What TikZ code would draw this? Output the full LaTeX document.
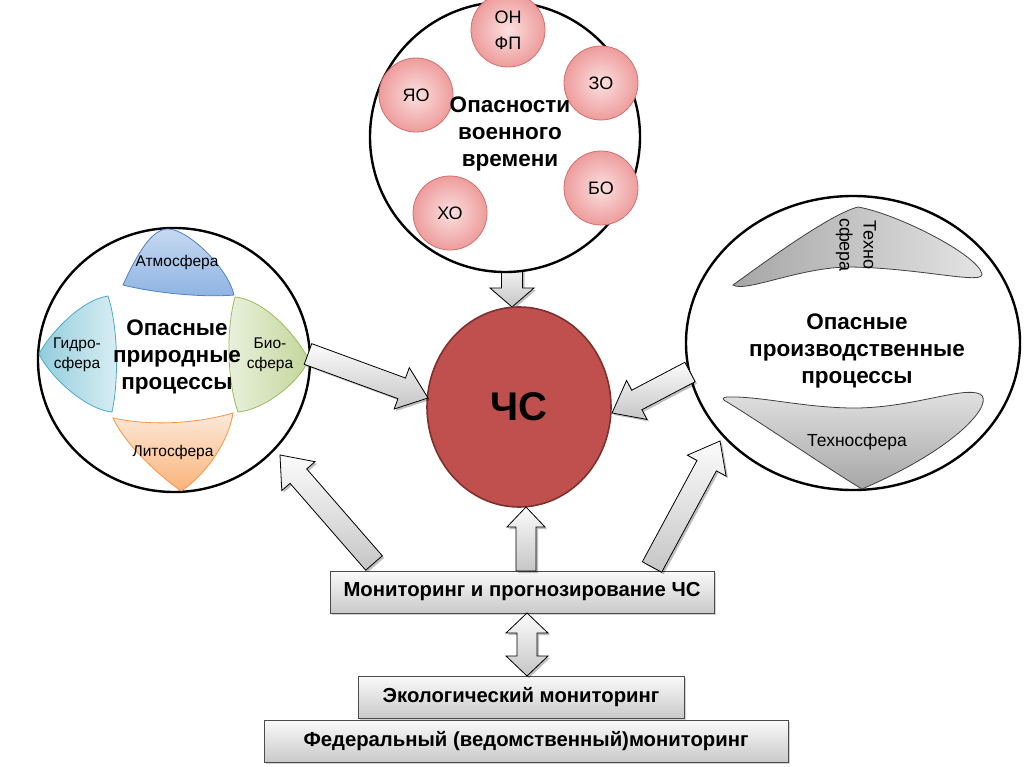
\documentclass[tikz,border=0pt]{standalone}
\usepackage{fontspec}
\setmainfont{Liberation Sans}
\usetikzlibrary{calc,shadows,shapes.geometric}
\definecolor{chsred}{HTML}{C0504D}
\definecolor{chsdark}{HTML}{7F2F2D}
\definecolor{pinkin}{HTML}{FBE0E0}
\definecolor{pinkout}{HTML}{EE9C9C}
\definecolor{pinkline}{HTML}{D0706C}
\definecolor{atmL}{HTML}{C6D9F1}
\definecolor{atmB}{HTML}{8DB3E2}
\definecolor{atmD}{HTML}{4F81BD}
\definecolor{hydL}{HTML}{DAEEF3}
\definecolor{hydB}{HTML}{93CDDD}
\definecolor{hydD}{HTML}{4BACC6}
\definecolor{bioL}{HTML}{EBF1DE}
\definecolor{bioB}{HTML}{C3D69B}
\definecolor{bioD}{HTML}{9BBB59}
\definecolor{litL}{HTML}{FDE9D9}
\definecolor{litB}{HTML}{FAB37A}
\definecolor{litD}{HTML}{F79646}
\definecolor{grL}{HTML}{E4E4E4}
\definecolor{grB}{HTML}{A6A6A6}
\tikzset{
  bigc/.style={ellipse, draw=black, line width=2.4pt, fill=white, inner sep=0pt},
  ball/.style={circle, minimum size=74pt, inner sep=0pt, draw=pinkline, line width=0.8pt,
    shading=radial, inner color=pinkin, outer color=pinkout, align=center,
    font=\fontsize{18}{26}\selectfont},
  bigtitle/.style={align=center, font=\fontsize{22.5}{27}\selectfont\bfseries},
  petaltxt/.style={align=center, font=\fontsize{15.5}{20}\selectfont},
  arrowsty/.style={draw=black, line width=0.8pt, top color=white!97!gray, bottom color=gray!45, line join=miter},
  shadowsty/.style={fill=black, opacity=0.25, transform canvas={shift={(2pt,-2pt)}}},
  boxsty/.style={rectangle, draw=gray!60!black, line width=0.8pt, top color=white!96!gray,
    bottom color=gray!42, minimum height=42pt, inner sep=0pt,
    drop shadow={opacity=0.35, shadow xshift=2pt, shadow yshift=-2pt},
    font=\fontsize{20.3}{24}\selectfont\bfseries},
  shapeline/.style={draw=black!75, line width=0.8pt}
}
\newcommand{\blockarrow}[6]{%
  \coordinate (#1h) at ($(#3)!#6!(#2)$);
  \fill[shadowsty] ($(#2)!#4!90:(#3)$) -- ($(#1h)!#4!90:(#3)$) -- ($(#1h)!#5!90:(#3)$) -- (#3) -- ($(#1h)!#5!-90:(#3)$) -- ($(#1h)!#4!-90:(#3)$) -- ($(#2)!#4!-90:(#3)$) -- cycle;
  \path[arrowsty] ($(#2)!#4!90:(#3)$) -- ($(#1h)!#4!90:(#3)$) -- ($(#1h)!#5!90:(#3)$) -- (#3) -- ($(#1h)!#5!-90:(#3)$) -- ($(#1h)!#4!-90:(#3)$) -- ($(#2)!#4!-90:(#3)$) -- cycle;
}
\newcommand{\dblarrow}[6]{%
  \coordinate (#1a) at ($(#2)!#6!(#3)$);
  \coordinate (#1b) at ($(#3)!#6!(#2)$);
  \fill[shadowsty] (#2) -- ($(#1a)!#5!90:(#3)$) -- ($(#1a)!#4!90:(#3)$) -- ($(#1b)!#4!-90:(#2)$) -- ($(#1b)!#5!-90:(#2)$) -- (#3) -- ($(#1b)!#5!90:(#2)$) -- ($(#1b)!#4!90:(#2)$) -- ($(#1a)!#4!-90:(#3)$) -- ($(#1a)!#5!-90:(#3)$) -- cycle;
  \path[arrowsty] (#2) -- ($(#1a)!#5!90:(#3)$) -- ($(#1a)!#4!90:(#3)$) -- ($(#1b)!#4!-90:(#2)$) -- ($(#1b)!#5!-90:(#2)$) -- (#3) -- ($(#1b)!#5!90:(#2)$) -- ($(#1b)!#4!90:(#2)$) -- ($(#1a)!#4!-90:(#3)$) -- ($(#1a)!#5!-90:(#3)$) -- cycle;
}
\begin{document}
\begin{tikzpicture}[x=1pt,y=-1pt]
\useasboundingbox[fill=white] (0,0) rectangle (1024,767);

% ---- arrow under the war circle ----
\coordinate (a1s) at (512,262);
\coordinate (a1e) at (512,307);
\blockarrow{A1}{a1s}{a1e}{10.5pt}{22pt}{19pt}

% ---- big circles ----
\node[bigc, minimum width=270pt, minimum height=270pt] (war) at (505,137) {};
\node[bigc, minimum width=272pt, minimum height=264pt] (nat) at (174,360) {};
\node[bigc, minimum width=334pt, minimum height=294pt] (ind) at (853,343) {};

% ---- war circle content ----
\node[ball] (on) at (508,30) {ОН\\ФП};
\node[ball] (zo) at (601,83) {ЗО};
\node[ball] (yao) at (416,95) {ЯО};
\node[ball] (bo) at (601,188) {БО};
\node[ball] (xo) at (450,213) {ХО};
\node[bigtitle] (warlbl) at (510,134) {Опасности\\военного\\времени};

% ---- natural petals ----
\path[draw=atmD, line width=0.8pt, top color=atmL, bottom color=atmB]
  (123,285) .. controls (138,252) and (152,229) .. (168,229)
  .. controls (188,229) and (228,268) .. (234,295)
  .. controls (200,298) and (150,292) .. (123,285) -- cycle;
\path[draw=hydD, line width=0.8pt, left color=hydB, right color=hydL]
  (108,296) .. controls (80,300) and (48,336) .. (39,354)
  .. controls (52,380) and (88,410) .. (112,412)
  .. controls (119,380) and (118,326) .. (108,296) -- cycle;
\path[draw=bioD, line width=0.8pt, left color=bioL, right color=bioB]
  (235,297) .. controls (265,300) and (296,335) .. (309,360)
  .. controls (296,386) and (262,410) .. (238,412)
  .. controls (227,380) and (226,330) .. (235,297) -- cycle;
\path[draw=litD, line width=0.8pt, top color=litL, bottom color=litB]
  (113,418) .. controls (150,426) and (195,424) .. (233,413)
  .. controls (228,445) and (202,478) .. (181,491)
  .. controls (160,476) and (126,446) .. (113,418) -- cycle;
\node[petaltxt] (atm) at (177,262) {Атмосфера};
\node[petaltxt] (hyd) at (77,355) {Гидро-\\сфера};
\node[petaltxt] (bio) at (270,355) {Био-\\сфера};
\node[petaltxt] (lit) at (173,452) {Литосфера};
\node[bigtitle] (natlbl) at (177,357) {Опасные\\природные\\процессы};

% ---- industrial shapes ----
\path[shapeline, left color=grB, right color=grL]
  (733,285) .. controls (762,264) and (830,214) .. (858,207)
  .. controls (898,214) and (978,255) .. (982,274)
  .. controls (984,285) and (920,268) .. (850,267)
  .. controls (800,267) and (745,293) .. (733,285) -- cycle;
\path[shapeline, top color=grL, bottom color=grB]
  (727,397) .. controls (760,396) and (800,407) .. (850,408)
  .. controls (910,409) and (962,386) .. (980,394)
  .. controls (995,402) and (960,447) .. (862,489)
  .. controls (830,470) and (760,422) .. (727,402)
  .. controls (722,400) and (722,397) .. (727,397) -- cycle;
\node[rotate=-90, align=center, font=\fontsize{18}{24}\selectfont] (tech1) at (856,245) {Техно\\сфера};
\node[font=\fontsize{17.5}{20}\selectfont] (tech2) at (857,442) {Техносфера};
\node[bigtitle] (indlbl) at (857,351) {Опасные\\производственные\\процессы};

% ---- ЧС ----
\node[ellipse, minimum width=184pt, minimum height=200pt, fill=chsred, draw=chsdark,
  line width=1.6pt, font=\fontsize{40}{44}\selectfont\bfseries] (chs) at (519,407) {ЧС};

% ---- boxes ----
\node[boxsty, minimum width=384pt] (mon) at (522,592) {Мониторинг и прогнозирование ЧС};
\node[boxsty, minimum width=326pt] (eco) at (521,697) {Экологический мониторинг};
\node[boxsty, minimum width=524pt] (fed) at (526,741) {Федеральный (ведомственный)мониторинг};

% ---- arrow end points ----
\coordinate (a2s) at (308,354);
\coordinate (a2e) at (428,398);
\coordinate (a3s) at (690,372);
\coordinate (a3e) at (612,413);
\coordinate (a4s) at (374,563);
\coordinate (a4e) at (280,455);
\coordinate (a5s) at (652,567);
\coordinate (a5e) at (720,441);
\coordinate (a6s) at (526,571);
\coordinate (a6e) at (526,507);
\coordinate (a7s) at (527,613);
\coordinate (a7e) at (527,676);

\blockarrow{A2}{a2s}{a2e}{11pt}{22pt}{28pt}
\blockarrow{A3}{a3s}{a3e}{11pt}{22pt}{28pt}
\blockarrow{A4}{a4s}{a4e}{11pt}{22pt}{28pt}
\blockarrow{A5}{a5s}{a5e}{11pt}{22pt}{28pt}
\blockarrow{A6}{a6s}{a6e}{10pt}{19pt}{20pt}
\dblarrow{A7}{a7s}{a7e}{10pt}{21pt}{20pt}
\end{tikzpicture}
\end{document}
